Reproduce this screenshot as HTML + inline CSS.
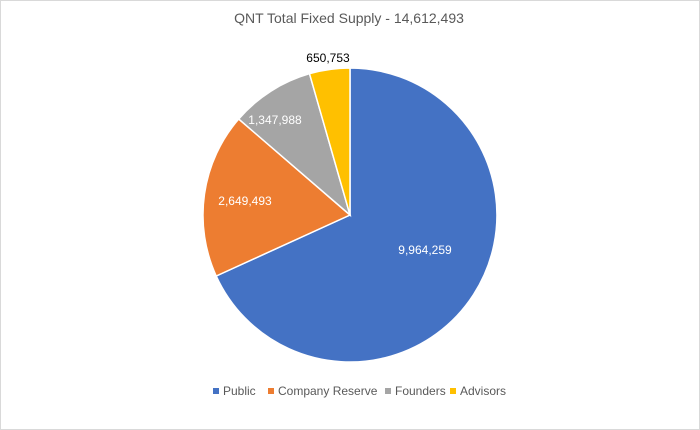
<!DOCTYPE html>
<html><head><style>
body{margin:0;background:#fff;}
.w{position:relative;width:698px;height:428px;border:1px solid #d9d9d9;overflow:hidden;font-family:"Liberation Sans",sans-serif;}
</style></head><body><div class="w">
<svg width="698" height="428" style="position:absolute;left:0;top:0">
<g stroke="#fff" stroke-width="1.5" transform="translate(-1,-1)">
<path d="M350,215 L350,68 A147,147 0 1,1 216.2,276 Z" fill="#4472C4"/>
<path d="M350,215 L216.2,276 A147,147 0 0,1 238.7,119 Z" fill="#ED7D31"/>
<path d="M350,215 L238.7,119 A147,147 0 0,1 309.5,73.7 Z" fill="#A5A5A5"/>
<path d="M350,215 L309.5,73.7 A147,147 0 0,1 350,68 Z" fill="#FFC000"/>
</g>
<g font-family="Liberation Sans, sans-serif" font-size="12" text-anchor="middle">
<text x="348" y="22" font-size="14" fill="#595959">QNT Total Fixed Supply - 14,612,493</text>
<text x="424" y="253" fill="#fff">9,964,259</text>
<text x="244" y="204" fill="#fff">2,649,493</text>
<text x="274" y="123" fill="#fff">1,347,988</text>
<text x="327" y="61" fill="#000">650,753</text>
</g>
<g font-family="Liberation Sans, sans-serif" font-size="12" fill="#595959">
<rect x="212" y="387" width="6" height="6" fill="#4472C4"/><text x="222" y="394">Public</text>
<rect x="267" y="387" width="6" height="6" fill="#ED7D31"/><text x="277" y="394">Company Reserve</text>
<rect x="384" y="387" width="6" height="6" fill="#A5A5A5"/><text x="394" y="394">Founders</text>
<rect x="449" y="387" width="6" height="6" fill="#FFC000"/><text x="459" y="394">Advisors</text>
</g>
</svg>
</div></body></html>
